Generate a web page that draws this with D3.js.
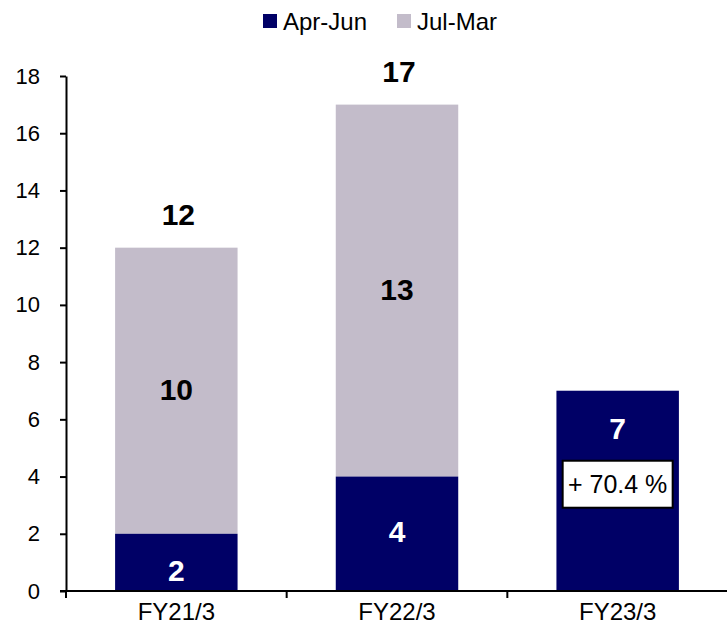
<!DOCTYPE html>
<html>
<head>
<meta charset="utf-8">
<script src="https://cdn.jsdelivr.net/npm/d3@7"></script>
<style>
  html, body { margin: 0; padding: 0; background: #fff; }
  svg { display: block; font-family: "Liberation Sans", Arial, sans-serif; }
</style>
</head>
<body>
<svg id="chart" width="727" height="636"></svg>
<script>
const categories = ["FY21/3", "FY22/3", "FY23/3"];
const seriesNames = ["Apr-Jun", "Jul-Mar"];
const aprJun = [2, 4, 7];
const julMar = [10, 13, null];
const totals = [12, 17, null];
const yTicks = [0, 2, 4, 6, 8, 10, 12, 14, 16, 18];
const growthLabel = "+ 70.4 %";
const colors = ["#000066", "#c3bcca"];

const svg = d3.select("#chart");
const x = d3.scaleBand().domain(categories).range([66, 728]).paddingInner(0.445).paddingOuter(0.2225);
const y = d3.scaleLinear().domain([0, 18]).range([591, 76]);

const stackData = categories.map((c, i) => ({ cat: c, a: aprJun[i], b: julMar[i] }));
// Jul-Mar segments
svg.append("g").selectAll("rect").data(stackData.filter(d => d.b != null)).join("rect")
  .attr("x", d => x(d.cat)).attr("width", x.bandwidth())
  .attr("y", d => y(d.a + d.b)).attr("height", d => y(d.a) - y(d.a + d.b))
  .attr("fill", colors[1]);
// Apr-Jun segments
svg.append("g").selectAll("rect").data(stackData).join("rect")
  .attr("x", d => x(d.cat)).attr("width", x.bandwidth())
  .attr("y", d => y(d.a)).attr("height", d => y(0) - y(d.a))
  .attr("fill", colors[0]);

// y axis
const yAxis = d3.axisLeft(y).tickValues(yTicks).tickSize(6).tickPadding(20).tickSizeOuter(0);
const gy = svg.append("g").attr("transform", "translate(66,0)").call(yAxis);
gy.select(".domain").attr("stroke", "#000").attr("stroke-width", 2);
gy.selectAll(".tick line").attr("stroke", "#000").attr("stroke-width", 2);
gy.selectAll(".tick text").attr("font-size", 22).attr("fill", "#000")
  .attr("font-family", "Liberation Sans, Arial, sans-serif");

// x axis
const gx = svg.append("g").attr("transform", `translate(0,${y(0)})`);
gx.append("line").attr("x1", 60).attr("x2", 727).attr("y1", 0).attr("y2", 0)
  .attr("stroke", "#000").attr("stroke-width", 2);
const gap = (x.step() - x.bandwidth()) / 2;
categories.forEach(c => {
  const bx = x(c) - gap;
  gx.append("line").attr("x1", bx).attr("x2", bx).attr("y1", 0).attr("y2", 7)
    .attr("stroke", "#000").attr("stroke-width", 2);
});
gx.selectAll("text.cat").data(categories).join("text").attr("class", "cat")
  .attr("x", d => x(d) + x.bandwidth() / 2).attr("y", 29)
  .attr("text-anchor", "middle").attr("font-size", 24).attr("fill", "#000")
  .text(d => d);

// value labels
const cx = d => x(d.cat) + x.bandwidth() / 2;
stackData.forEach((d, i) => {
  let ly;
  if (d.b == null) ly = y(d.a) + 48;
  else if (i === 0) ly = (y(0) + y(d.a)) / 2 + 19;
  else ly = (y(0) + y(d.a)) / 2 + 8;
  svg.append("text").attr("x", cx(d)).attr("y", ly).attr("text-anchor", "middle")
    .attr("font-size", 30).attr("font-weight", "bold").attr("fill", "#fff").text(d.a);
  if (d.b != null) {
    svg.append("text").attr("x", cx(d)).attr("y", (y(d.a) + y(d.a + d.b)) / 2 + 9)
      .attr("text-anchor", "middle").attr("font-size", 30).attr("font-weight", "bold")
      .attr("fill", "#000").text(d.b);
  }
  if (totals[i] != null) {
    svg.append("text").attr("x", cx(d) + 2).attr("y", y(totals[i]) - 23)
      .attr("text-anchor", "middle").attr("font-size", 30).attr("font-weight", "bold")
      .attr("fill", "#000").text(totals[i]);
  }
});

// growth box
const gc = x(categories[2]) + x.bandwidth() / 2;
const by = y(aprJun[2]) + 70;
svg.append("rect").attr("x", gc - 55).attr("y", by).attr("width", 110).attr("height", 47)
  .attr("fill", "#fff").attr("stroke", "#000").attr("stroke-width", 2);
svg.append("text").attr("x", gc).attr("y", by + 32).attr("text-anchor", "middle")
  .attr("font-size", 25).attr("fill", "#000").text(growthLabel);

// legend
const legend = svg.append("g");
const lx = [263, 397];
seriesNames.forEach((s, i) => {
  legend.append("rect").attr("x", lx[i]).attr("y", 14).attr("width", 14).attr("height", 14)
    .attr("fill", colors[i]);
  legend.append("text").attr("x", lx[i] + 20).attr("y", 30).attr("font-size", 24)
    .attr("fill", "#000").text(s);
});
</script>
</body>
</html>
